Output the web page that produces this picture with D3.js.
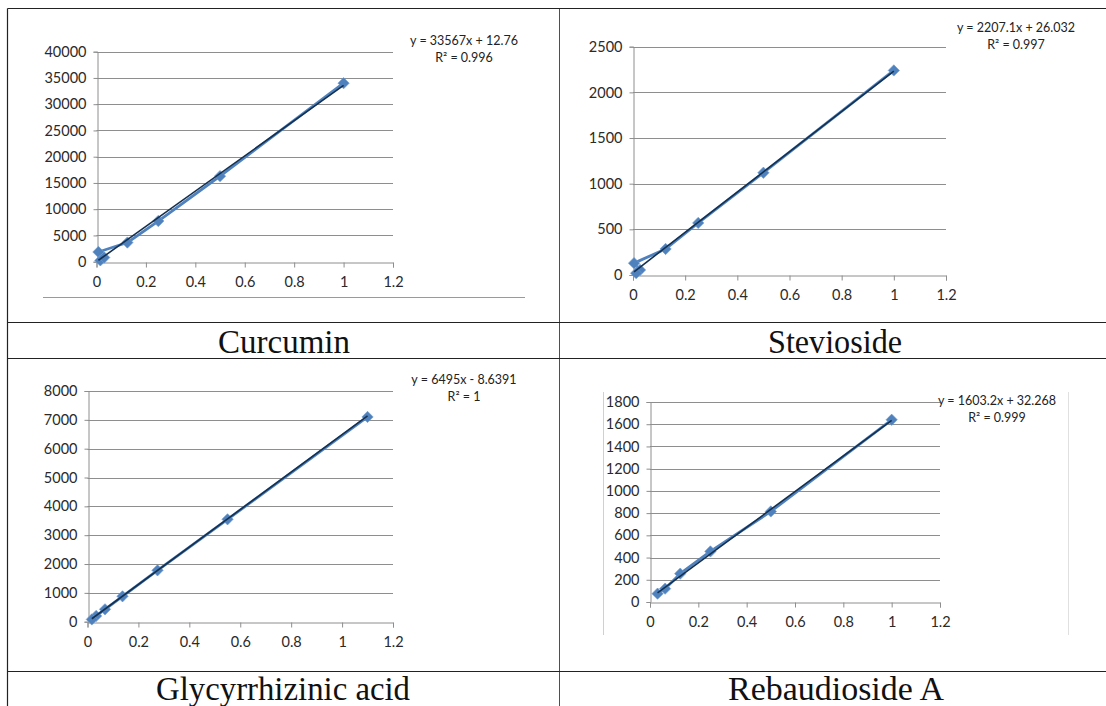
<!DOCTYPE html>
<html>
<head>
<meta charset="utf-8">
<script src="https://cdn.jsdelivr.net/npm/d3@7"></script>
<style>
  html, body { margin: 0; padding: 0; background: #ffffff; }
  svg { display: block; }
</style>
</head>
<body>
<svg id="fig" width="1106" height="706"></svg>
<script>
// Calibration curves: concentration (x) vs peak area (y)
const compoundNames = ["Curcumin", "Stevioside", "Glycyrrhizinic acid", "Rebaudioside A"];

const curcuminX = [1, 0.5, 0.25, 0.125, 0.0078, 0.0156, 0.03125];
const curcuminY = [34000, 16300, 7750, 3650, 1850, 250, 800];

const steviosideX = [1, 0.5, 0.25, 0.125, 0.004, 0.027, 0.012];
const steviosideY = [2240, 1120, 570, 285, 130, 55, 20];

const glycyrrhizinX = [1.1, 0.55, 0.275, 0.1375, 0.06875, 0.034, 0.017];
const glycyrrhizinY = [7100, 3550, 1780, 880, 430, 200, 80];

const rebaudiosideX = [1, 0.5, 0.25, 0.125, 0.0625, 0.03125];
const rebaudiosideY = [1640, 815, 455, 255, 120, 75];

// Linear trendline coefficients and labels
const slopes = [33567, 2207.1, 6495, 1603.2];
const intercepts = [12.76, 26.032, -8.6391, 32.268];
const equationLabels = ["y = 33567x + 12.76", "y = 2207.1x + 26.032", "y = 6495x - 8.6391", "y = 1603.2x + 32.268"];
const r2Labels = ["R\u00B2 = 0.996", "R\u00B2 = 0.997", "R\u00B2 = 1", "R\u00B2 = 0.999"];

// Axis settings
const yMaxes = [40000, 2500, 8000, 1800];
const ySteps = [5000, 500, 1000, 200];
const xTickValues = [0, 0.2, 0.4, 0.6, 0.8, 1, 1.2];

const seriesX = [curcuminX, steviosideX, glycyrrhizinX, rebaudiosideX];
const seriesY = [curcuminY, steviosideY, glycyrrhizinY, rebaudiosideY];

// Plot-area boxes for the four cells
const plotBoxes = [
  { left: 96.5, right: 393, top: 51.7, bottom: 261.7, eqX: 464, eqY: 41 },
  { left: 633, right: 946, top: 46.7, bottom: 275, eqX: 1016, eqY: 28 },
  { left: 87.5, right: 393, top: 391, bottom: 621.7, eqX: 464, eqY: 380 },
  { left: 650, right: 940, top: 402, bottom: 602, eqX: 997, eqY: 401 }
];

const svg = d3.select("#fig");
const tickFont = "Lato, 'Open Sans', sans-serif";
const gridColor = "#8e8e8e";
const dataColor = "#4f81bd";
const trendColor = "#14304f";

// ----- table grid -----
const table = svg.append("g").attr("stroke", "#222").attr("stroke-width", 1.2).attr("fill", "none");
table.append("line").attr("x1", 7.5).attr("x2", 1106).attr("y1", 8.5).attr("y2", 8.5);
table.append("line").attr("x1", 7.5).attr("x2", 1106).attr("y1", 322.5).attr("y2", 322.5);
table.append("line").attr("x1", 7.5).attr("x2", 1106).attr("y1", 358.5).attr("y2", 358.5);
table.append("line").attr("x1", 7.5).attr("x2", 1106).attr("y1", 671.5).attr("y2", 671.5);
table.append("line").attr("x1", 7.5).attr("x2", 7.5).attr("y1", 8.5).attr("y2", 706);
table.append("line").attr("x1", 559.5).attr("x2", 559.5).attr("y1", 8.5).attr("y2", 706).attr("stroke-width", 0.8);

// Chart-area frame remnants
svg.append("line").attr("x1", 43).attr("x2", 525).attr("y1", 297.5).attr("y2", 297.5)
  .attr("stroke", "#9a9a9a").attr("stroke-width", 1);
svg.append("line").attr("x1", 603.5).attr("x2", 603.5).attr("y1", 392).attr("y2", 635)
  .attr("stroke", "#d0d0d0").attr("stroke-width", 1);
svg.append("line").attr("x1", 1068.5).attr("x2", 1068.5).attr("y1", 392).attr("y2", 635)
  .attr("stroke", "#e0e0e0").attr("stroke-width", 1);

// ----- cell captions -----
const captionPos = [
  { x: 284, y: 353, w: 132 },
  { x: 835, y: 353, w: 134 },
  { x: 283, y: 700, w: 254 },
  { x: 836, y: 700, w: 216 }
];
compoundNames.forEach((name, i) => {
  svg.append("text")
    .attr("x", captionPos[i].x)
    .attr("y", captionPos[i].y)
    .attr("text-anchor", "middle")
    .attr("font-family", "'Liberation Serif', 'DejaVu Serif', serif")
    .attr("font-size", 34)
    .attr("fill", "#111")
    .attr("textLength", captionPos[i].w)
    .attr("lengthAdjust", "spacingAndGlyphs")
    .text(name);
});

// ----- charts -----
plotBoxes.forEach((box, i) => {
  const g = svg.append("g");
  const x = d3.scaleLinear().domain([0, 1.2]).range([box.left, box.right]);
  const y = d3.scaleLinear().domain([0, yMaxes[i]]).range([box.bottom, box.top]);
  const yTickValues = d3.range(0, yMaxes[i] + ySteps[i] / 2, ySteps[i]);

  // horizontal gridlines
  g.append("g").selectAll("line").data(yTickValues.slice(1)).join("line")
    .attr("x1", box.left).attr("x2", box.right)
    .attr("y1", d => Math.round(y(d)) + 0.5).attr("y2", d => Math.round(y(d)) + 0.5)
    .attr("stroke", gridColor).attr("stroke-width", 1);

  // y axis
  const yAxis = g.append("g")
    .attr("transform", `translate(${Math.round(box.left) + 0.5},0)`)
    .call(d3.axisLeft(y).tickValues(yTickValues).tickSize(4).tickPadding(7).tickFormat(d3.format("d")));
  yAxis.select(".domain").attr("stroke", gridColor);
  yAxis.selectAll(".tick line").attr("stroke", gridColor);
  yAxis.selectAll("text").attr("font-family", tickFont).attr("font-size", 14.5).attr("fill", "#2a2a2a");

  // x axis
  const xAxis = g.append("g")
    .attr("transform", `translate(0,${Math.round(box.bottom) + 0.5})`)
    .call(d3.axisBottom(x).tickValues(xTickValues).tickSize(5).tickPadding(9).tickFormat(d => String(+d.toFixed(1))));
  xAxis.select(".domain").attr("stroke", gridColor);
  xAxis.selectAll(".tick line").attr("stroke", gridColor);
  xAxis.selectAll("text").attr("font-family", tickFont).attr("font-size", 14.5).attr("fill", "#2a2a2a");

  // data series (connected in recorded order)
  const pts = seriesX[i].map((v, k) => [v, seriesY[i][k]]);
  g.append("path")
    .datum(pts)
    .attr("d", d3.line().x(d => x(d[0])).y(d => y(d[1])))
    .attr("fill", "none")
    .attr("stroke", dataColor)
    .attr("stroke-width", 2.8)
    .attr("stroke-linejoin", "round");

  g.append("g").selectAll("path").data(pts).join("path")
    .attr("transform", d => `translate(${x(d[0])},${y(d[1])}) rotate(45)`)
    .attr("d", d3.symbol(d3.symbolSquare, 64))
    .attr("fill", dataColor)
    .attr("stroke", "#6f9bd0")
    .attr("stroke-width", 0.6);

  // linear trendline across the data range
  const xs = d3.extent(seriesX[i]);
  g.append("line")
    .attr("x1", x(xs[0])).attr("y1", y(slopes[i] * xs[0] + intercepts[i]))
    .attr("x2", x(xs[1])).attr("y2", y(slopes[i] * xs[1] + intercepts[i]))
    .attr("stroke", trendColor)
    .attr("stroke-width", 1.6);

  // trendline equation
  const eq = g.append("g").attr("font-family", tickFont).attr("font-size", 12.5).attr("fill", "#222")
    .attr("text-anchor", "middle");
  eq.append("text").attr("x", box.eqX).attr("y", box.eqY + 4).text(equationLabels[i]);
  eq.append("text").attr("x", box.eqX).attr("y", box.eqY + 21).text(r2Labels[i]);
});
</script>
</body>
</html>
